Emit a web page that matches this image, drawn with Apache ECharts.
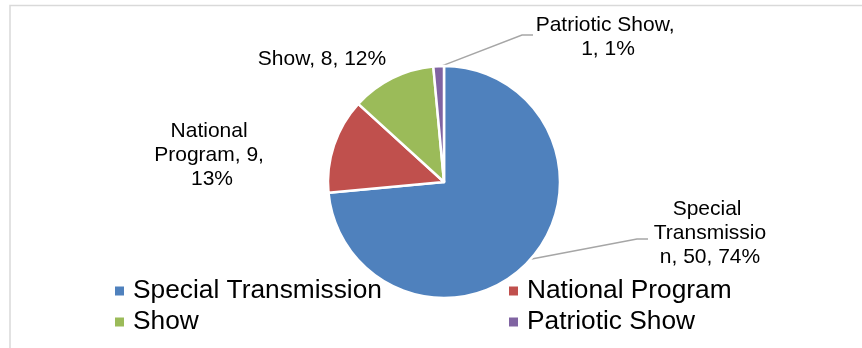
<!DOCTYPE html>
<html>
<head>
<meta charset="utf-8">
<script src="https://cdn.jsdelivr.net/npm/echarts@6/dist/echarts.min.js"></script>
<style>
  html, body { margin: 0; padding: 0; background: #fff; }
  #chart { width: 862px; height: 348px; }
</style>
</head>
<body>
<div id="chart"></div>
<script>
// Programme mix: number of items per category
const categories = ['Special Transmission', 'National Program', 'Show', 'Patriotic Show'];
const counts = [50, 9, 8, 1];
const sliceColors = ['#4f81bd', '#c0504d', '#9bbb59', '#8064a2'];
// which slices carry a leader line to their label
const withLeader = [true, false, false, true];

const FONT = '"Liberation Sans", Arial, sans-serif';
const CENTER = [444, 182];
const RADIUS = 116;

// where each data label sits, its wrap width, and the elbow of its leader line
const labelSpots = [
  { x: 710, y: 233, w: 116, elbow: [[637, 239], [648, 239]] },
  { x: 212, y: 155, w: 116 },
  { x: 322, y: 59, w: 160 },
  { x: 608, y: 37, w: 150, elbow: [[522, 35], [533, 35]] }
];

const total = counts.reduce((a, b) => a + b, 0);
// point on the rim at the middle of slice i (clockwise from 12 o'clock)
function rimMid(i) {
  let before = 0;
  for (let k = 0; k < i; k++) before += counts[k];
  const frac = (before + counts[i] / 2) / total;
  const a = frac * 2 * Math.PI;
  return [CENTER[0] + (RADIUS - 1) * Math.sin(a), CENTER[1] - (RADIUS - 1) * Math.cos(a)];
}

const pieData = categories.map((name, i) => ({
  name: name,
  value: counts[i],
  itemStyle: { color: sliceColors[i] },
  label: { width: labelSpots[i].w },
  labelLine: { show: withLeader[i] }
}));

const legendBase = {
  orient: 'vertical',
  top: 275.5,
  padding: 0,
  itemGap: 0,
  itemWidth: 9,
  itemHeight: 9,
  icon: 'rect',
  selectedMode: false,
  itemStyle: { borderWidth: 0 },
  textStyle: { fontFamily: FONT, fontSize: 26.3, lineHeight: 31, color: '#000', padding: [0, 0, 0, 4] }
};

const chart = echarts.init(document.getElementById('chart'), null, { renderer: 'canvas' });
chart.setOption({
  animation: false,
  backgroundColor: '#fff',
  graphic: [{
    type: 'rect',
    shape: { x: 10, y: 5.5, width: 1000, height: 1000 },
    style: { fill: 'none', stroke: '#d9d9d9', lineWidth: 1.5 },
    silent: true
  }],
  legend: [
    Object.assign({}, legendBase, { left: 115, data: [categories[0], categories[2]] }),
    Object.assign({}, legendBase, { left: 509, data: [categories[1], categories[3]] })
  ],
  series: [{
    type: 'pie',
    center: CENTER,
    radius: RADIUS,
    startAngle: 90,
    clockwise: true,
    percentPrecision: 0,
    avoidLabelOverlap: false,
    itemStyle: { borderColor: '#fff', borderWidth: 2.5 },
    label: {
      show: true,
      position: 'outside',
      formatter: '{b}, {c}, {d}%',
      fontFamily: FONT,
      fontSize: 21,
      lineHeight: 24,
      color: '#000',
      align: 'center',
      overflow: 'break'
    },
    labelLine: {
      show: true,
      length: 10,
      length2: 10,
      lineStyle: { color: '#a6a6a6', width: 1.5 }
    },
    labelLayout: function (params) {
      const i = params.dataIndex;
      const spot = labelSpots[i];
      const out = { x: spot.x, y: spot.y, align: 'center', verticalAlign: 'middle' };
      if (spot.elbow) {
        out.labelLinePoints = [rimMid(i), spot.elbow[0], spot.elbow[1]];
      }
      return out;
    },
    data: pieData
  }]
});
</script>
</body>
</html>
